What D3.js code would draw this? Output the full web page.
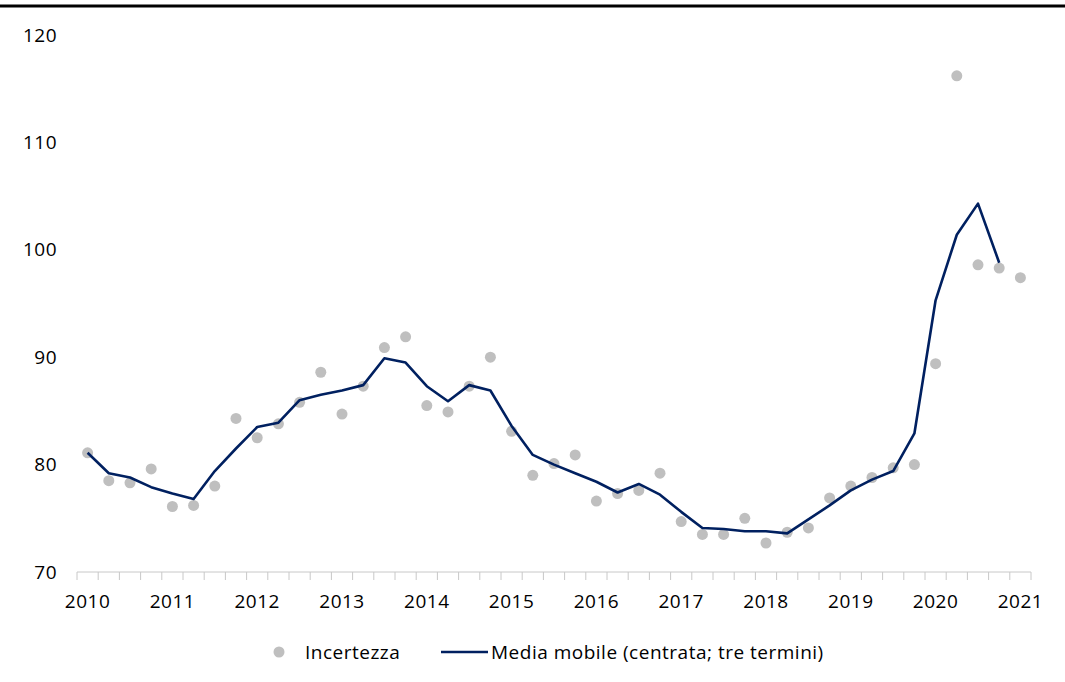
<!DOCTYPE html>
<html>
<head>
<meta charset="utf-8">
<script src="https://cdn.jsdelivr.net/npm/d3@7"></script>
<style>
  body { margin: 0; background: #fff; }
  svg { display: block; font-family: 'Open Sans', Arial, sans-serif; }
  text { letter-spacing: 0.5px; }
</style>
</head>
<body>
<div id="chart"></div>
<script>
// quarterly categories 2010 T1 .. 2021 T1
const years = d3.range(2010, 2022);
const quarters = [];
years.forEach(y => {
  [1, 2, 3, 4].forEach(q => {
    if (y < 2021 || q === 1) quarters.push(`${y} T${q}`);
  });
});

// Incertezza (points)
const incertezza = [
  81.1, 78.5, 78.3, 79.6, 76.1, 76.2, 78.0, 84.3,
  82.5, 83.8, 85.8, 88.6, 84.7, 87.3, 90.9, 91.9,
  85.5, 84.9, 87.3, 90.0, 83.1, 79.0, 80.1, 80.9,
  76.6, 77.3, 77.6, 79.2, 74.7, 73.5, 73.5, 75.0,
  72.7, 73.7, 74.1, 76.9, 78.0, 78.8, 79.7, 80.0,
  89.4, 116.2, 98.6, 98.3, 97.4
];

// Media mobile (centrata; tre termini)
const mediaMobile = [
  81.1, 79.2, 78.8, 77.9, 77.3, 76.8, 79.4, 81.5,
  83.5, 83.9, 86.0, 86.5, 86.9, 87.4, 89.9, 89.5,
  87.3, 85.9, 87.4, 86.9, 83.6, 80.9, 80.0, 79.2,
  78.4, 77.4, 78.2, 77.2, 75.6, 74.1, 74.0, 73.8,
  73.8, 73.6, 74.9, 76.2, 77.6, 78.6, 79.4, 82.9,
  95.3, 101.4, 104.3, 98.8, null
];

const yTicks = [70, 80, 90, 100, 110, 120];

const width = 1065, height = 682;
const margin = {top: 35, right: 34, bottom: 110, left: 77};
const fontSize = 19;

const svg = d3.select("#chart")
  .append("svg")
  .attr("width", width)
  .attr("height", height);

// top rule
svg.append("line")
  .attr("x1", 0).attr("x2", width)
  .attr("y1", 6).attr("y2", 6)
  .attr("stroke", "#000")
  .attr("stroke-width", 3);

const x = d3.scaleBand()
  .domain(quarters)
  .range([margin.left, width - margin.right]);

const y = d3.scaleLinear()
  .domain([70, 120])
  .range([height - margin.bottom, margin.top]);

const cx = q => x(q) + x.bandwidth() / 2;

// y labels (no axis line)
svg.append("g")
  .selectAll("text")
  .data(yTicks)
  .join("text")
  .attr("x", 57)
  .attr("y", d => y(d))
  .attr("dy", "0.35em")
  .attr("text-anchor", "end")
  .attr("font-size", fontSize)
  .attr("fill", "#000")
  .text(d => d);

// x axis: line + ticks between categories
const axisY = y(70);
const xAxis = svg.append("g");
xAxis.append("line")
  .attr("x1", margin.left).attr("x2", width - margin.right)
  .attr("y1", axisY).attr("y2", axisY)
  .attr("stroke", "#c8c8c8");
xAxis.selectAll(".qtick")
  .data(quarters.map(q => x(q)).concat([width - margin.right]))
  .join("line")
  .attr("class", "qtick")
  .attr("x1", d => d).attr("x2", d => d)
  .attr("y1", axisY).attr("y2", axisY + 8)
  .attr("stroke", "#c8c8c8");

svg.append("g")
  .attr("transform", `translate(0,${axisY})`)
  .call(d3.axisBottom(x)
    .tickValues(quarters.filter(q => q.endsWith("T1")))
    .tickSize(0)
    .tickPadding(23)
    .tickFormat(d => d.slice(0, 4)))
  .call(g => g.select(".domain").remove())
  .selectAll("text")
  .attr("font-size", fontSize)
  .attr("font-family", "'Open Sans', Arial, sans-serif")
  .attr("fill", "#000");

// points
svg.append("g")
  .selectAll("circle")
  .data(quarters.map((q, i) => ({q, v: incertezza[i]})))
  .join("circle")
  .attr("cx", d => cx(d.q))
  .attr("cy", d => y(d.v))
  .attr("r", 5.5)
  .attr("fill", "#bfbfbf");

// moving average line
const line = d3.line()
  .defined(d => d.v != null)
  .x(d => cx(d.q))
  .y(d => y(d.v));

svg.append("path")
  .datum(quarters.map((q, i) => ({q, v: mediaMobile[i]})))
  .attr("fill", "none")
  .attr("stroke", "#002060")
  .attr("stroke-width", 2.6)
  .attr("stroke-linejoin", "round")
  .attr("d", line);

// legend
const legend = svg.append("g").attr("transform", "translate(0,652)");
legend.append("circle")
  .attr("cx", 279).attr("cy", 0).attr("r", 5.5)
  .attr("fill", "#bfbfbf");
legend.append("text")
  .attr("x", 305).attr("y", 0).attr("dy", "0.35em")
  .attr("font-size", fontSize)
  .text("Incertezza");
legend.append("line")
  .attr("x1", 441).attr("x2", 488)
  .attr("y1", 0).attr("y2", 0)
  .attr("stroke", "#002060")
  .attr("stroke-width", 2.6);
legend.append("text")
  .attr("x", 491).attr("y", 0).attr("dy", "0.35em")
  .attr("font-size", fontSize)
  .text("Media mobile (centrata; tre termini)");
</script>
</body>
</html>
